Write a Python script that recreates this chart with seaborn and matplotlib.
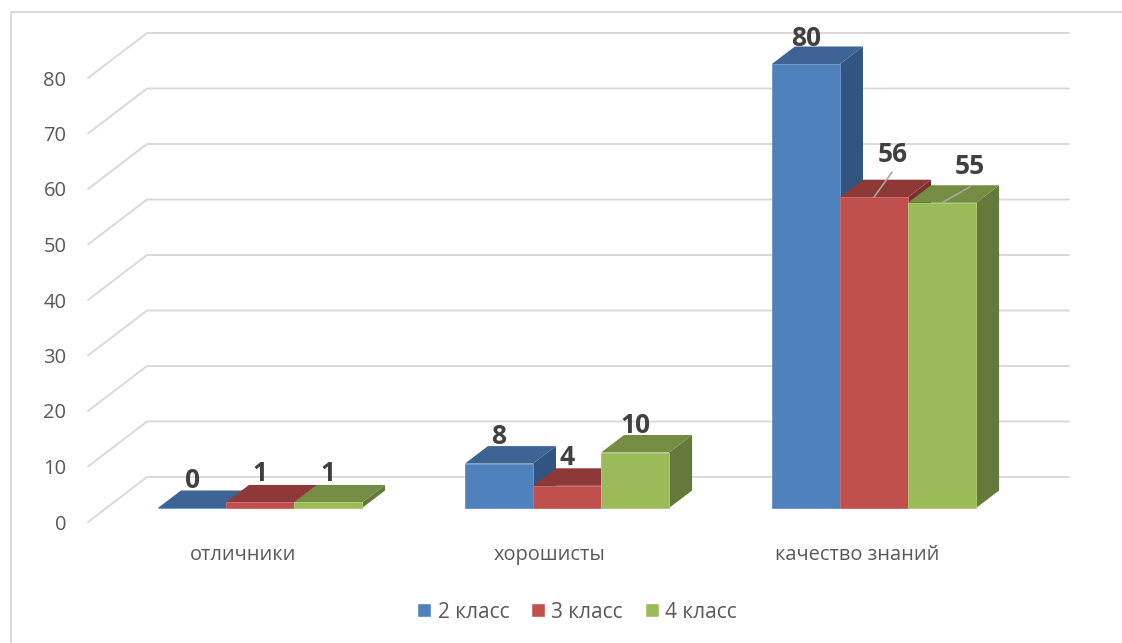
import matplotlib
matplotlib.use("Agg")
import matplotlib.pyplot as plt
import matplotlib.transforms as mtrans
from matplotlib.lines import Line2D
from matplotlib.patches import Polygon
import pandas as pd
import seaborn as sns

categories = ["отличники", "хорошисты", "качество знаний"]
classes = ["2 класс", "3 класс", "4 класс"]
class2 = [0, 8, 80]
class3 = [1, 4, 56]
class4 = [1, 10, 55]
y_ticks = [0, 10, 20, 30, 40, 50, 60, 70, 80]

front_colors = ["#4F81BD", "#C0504D", "#9BBB59"]
top_colors = ["#3C6494", "#8E3937", "#748D43"]
side_colors = ["#325480", "#7A302E", "#647A3A"]
edge_colors = ["#6F97C8", "#CC6E6B", "#AEC973"]
text_color = "#595959"
label_color = "#404040"
grid_color = "#D9D9D9"

W, H = 1122, 643
PX_PER_CAT = 307
PX_PER_UNIT = 5.55
LEFT = 88
BASE = 508


def xd(px):
    return px / PX_PER_CAT


def yd(px):
    return px / PX_PER_UNIT


df = pd.DataFrame({
    "category": categories * 3,
    "klass": [c for c in classes for _ in categories],
    "value": class2 + class3 + class4,
})

sns.set_theme(style="white")
plt.rcParams["font.family"] = ["Open Sans", "DejaVu Sans"]

fig = plt.figure(figsize=(W / 100, H / 100), dpi=100)
ax = fig.add_axes([LEFT / W, (H - BASE) / H, (W - LEFT) / W, BASE / H])
sns.barplot(data=df, x="category", y="value", hue="klass", order=categories,
            hue_order=classes, palette=front_colors, width=0.665, gap=0,
            saturation=1, errorbar=None, ax=ax, zorder=3)
ax.set_xlim((LEFT - 260) / PX_PER_CAT, (W - 260) / PX_PER_CAT)
ax.set_ylim(0, BASE / PX_PER_UNIT)
ax.set_xlabel("")
ax.set_ylabel("")
sns.despine(ax=ax, left=True, bottom=True)

# walls: front end of the gridline slants back to the rear wall
x0 = ax.get_xlim()[0]
for v in y_ticks:
    ax.plot([x0, x0 + xd(59), x0 + xd(981)],
            [v - yd(14), v - yd(14) + yd(45), v - yd(14) + yd(45)],
            color=grid_color, lw=1.4, zorder=1, clip_on=False)

# fake 3d: side and top faces hang off each seaborn bar
dx, dy = xd(23), yd(17.5)
for i, container in enumerate(ax.containers):
    for bar in container:
        bar.set_edgecolor(edge_colors[i])
        bar.set_linewidth(0.7)
        bar.set_clip_on(False)
        l, r, h = bar.get_x(), bar.get_x() + bar.get_width(), bar.get_height()
        rank = 3 + i * 2
        bar.set_zorder(rank + 1)
        ax.add_patch(Polygon([(r, 0), (r + dx, dy), (r + dx, h + dy), (r, h)],
                             fc=side_colors[i], ec="none", zorder=rank, clip_on=False))
        ax.add_patch(Polygon([(l, h), (l + dx, h + dy), (r + dx, h + dy), (r, h)],
                             fc=top_colors[i], ec="none", zorder=rank, clip_on=False))

# value labels, offsets in pixels from the top of the front face (per class, per category)
label_offsets = [
    [(1, 27), (0, 27), (0, 26)],
    [(0, 29), (0, 28), (19, 43)],
    [(0, 29), (0, 27), (28, 36)],
]
for i, container in enumerate(ax.containers):
    for j, bar in enumerate(container):
        cx = bar.get_x() + bar.get_width() / 2
        ax.annotate(str(int(bar.get_height())), (cx, bar.get_height()),
                    xytext=label_offsets[i][j], textcoords="offset pixels",
                    ha="center", va="center", fontsize=19, fontweight="bold",
                    color=label_color, zorder=20, annotation_clip=False)

# leader lines for 56 and 55
for i, (ex, ey) in zip([1, 2], [(18, 25), (28, 16)]):
    bar = ax.containers[i][2]
    cx = bar.get_x() + bar.get_width() / 2
    ax.annotate("", (cx, bar.get_height()), xytext=(ex, ey), textcoords="offset pixels",
                arrowprops=dict(arrowstyle="-", color="#A6A6A6", lw=1.2, shrinkA=0, shrinkB=0),
                zorder=20)

ax.set_yticks(y_ticks)
ax.tick_params(axis="y", length=0, pad=15.5, labelsize=14.5, labelcolor=text_color)
ax.tick_params(axis="x", length=0, pad=26.5, labelsize=14.4, labelcolor=text_color)
shift_y = mtrans.ScaledTranslation(0, -14 / 100, fig.dpi_scale_trans)
for lab in ax.get_yticklabels():
    lab.set_transform(lab.get_transform() + shift_y)
# category labels sit left of their bar groups in the original
shift_x = mtrans.ScaledTranslation(-17 / 100, 0, fig.dpi_scale_trans)
for lab in ax.get_xticklabels():
    lab.set_transform(lab.get_transform() + shift_x)

sns.move_legend(ax, "center", bbox_to_anchor=(577 / W, 1 - 612 / H),
                bbox_transform=fig.transFigure, ncol=3, frameon=False, title=None,
                fontsize=15, handlelength=0.67, handleheight=0.67,
                handletextpad=0.3, columnspacing=1.05, labelcolor=text_color)

# chart frame
fig.add_artist(Line2D([11 / W, 11 / W, 1], [0, 1 - 12 / H, 1 - 12 / H],
                      color=grid_color, lw=1.4))

fig.savefig("out.png", dpi=100)
